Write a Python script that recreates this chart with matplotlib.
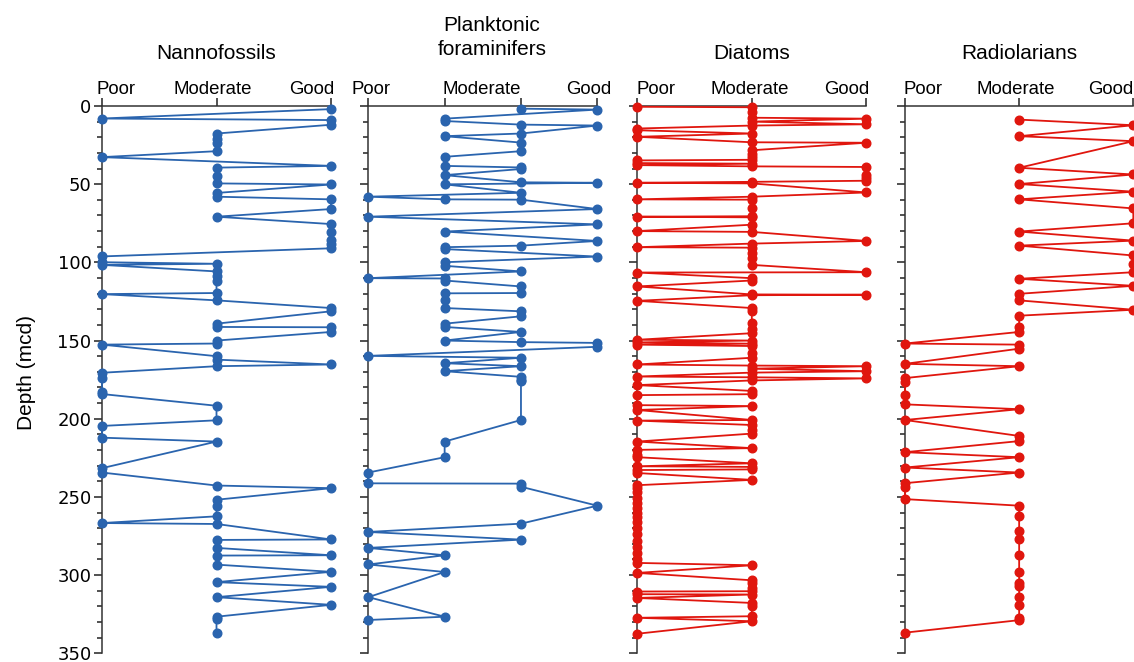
import matplotlib.pyplot as plt
from matplotlib.ticker import MultipleLocator

# preservation codes: 0 = Poor ... highest = Good
nanno_depth = [2, 8, 9, 12, 17.6, 20.8, 23.6, 28.9, 32.7, 38.3,
               39.4, 44.6, 49.5, 50.2, 55.6, 58, 59.7, 65.9, 70.8, 75.5,
               80.4, 85.7, 88, 91, 96.2, 99.9, 100.9, 101.6, 105.8, 109,
               111.6, 119.6, 120.3, 124.3, 129.2, 131.3, 139.2, 141.3, 141.5, 144.5,
               150, 151.9, 152.6, 160, 162.2, 165.3, 166.4, 170.6, 174, 182.8,
               184.2, 191.7, 201, 204.6, 212.1, 214.6, 231.6, 234.4, 242.7, 244.4,
               251.8, 256.1, 262.4, 266.7, 267.3, 277.2, 277.5, 282.6, 287.3, 287.5,
               293.3, 297.9, 304.5, 307.5, 314.1, 319, 326.6, 328.3, 337]
nanno_pres = [2, 0, 2, 2, 1, 1, 1, 1, 0, 2,
              1, 1, 1, 2, 1, 1, 2, 2, 1, 2,
              2, 2, 2, 2, 0, 0, 1, 0, 1, 1,
              1, 1, 0, 1, 2, 2, 1, 1, 2, 2,
              1, 1, 0, 1, 1, 2, 1, 0, 0, 0,
              0, 1, 1, 0, 0, 1, 0, 0, 1, 2,
              1, 1, 1, 0, 1, 2, 1, 1, 2, 1,
              1, 2, 1, 2, 1, 2, 1, 1, 1]

foram_depth = [1.7, 2.3, 8.1, 9.6, 11.9, 12.5, 17.6, 19.3, 23.4, 28.9,
               32.5, 38.3, 39.3, 40.3, 44.2, 48.8, 49.1, 50.1, 55.5, 58,
               59.7, 59.9, 65.9, 70.8, 75.7, 80.3, 86.3, 89.3, 90.3, 91.5,
               96.3, 99.9, 102.2, 105.8, 110.1, 110.3, 111.6, 115.4, 119.6, 119.8,
               123.9, 129.2, 131.3, 134.5, 139.2, 141.3, 144.5, 150, 151, 151.5,
               154, 159.8, 161, 164.5, 166.4, 169.6, 173.2, 175, 176, 200.8,
               214.6, 224.6, 234.4, 241.3, 241.5, 243.5, 255.6, 267.1, 272.4, 277.3,
               282.6, 287.3, 293.2, 298, 314.1, 326.6, 328.7]
foram_pres = [2, 3, 1, 1, 2, 3, 2, 1, 2, 2,
              1, 1, 2, 2, 1, 2, 3, 1, 2, 0,
              1, 2, 3, 0, 3, 1, 3, 2, 1, 1,
              3, 1, 1, 2, 0, 1, 1, 2, 2, 1,
              1, 1, 2, 2, 1, 1, 2, 1, 2, 3,
              3, 0, 2, 1, 2, 1, 2, 2, 2, 2,
              1, 1, 0, 0, 2, 2, 3, 2, 0, 2,
              0, 1, 0, 1, 0, 1, 0]

diatom_depth = [0.5, 0.8, 4, 7.5, 8.1, 10, 11.7, 12.5, 14.4, 15.5,
                17.6, 19.7, 23.2, 23.5, 28.3, 30.4, 32.5, 34.4, 34.8, 36.5,
                36.9, 37.8, 38.6, 39, 44.2, 46.3, 47.8, 48.5, 49.1, 49.5,
                55.3, 58, 59.7, 59.9, 65.3, 70.5, 70.8, 71.2, 75.9, 80,
                80.5, 86.3, 88, 90.3, 90.6, 94.1, 97.3, 101.6, 106.3, 106.5,
                110.1, 111.6, 115.4, 120.5, 120.7, 121, 124.6, 129.2, 131.3, 138.5,
                142.8, 145.3, 149.5, 150, 151.2, 152, 152.6, 153.5, 158, 161,
                165.3, 166, 166.4, 168, 169.6, 170.5, 173, 173.5, 174.2, 175.5,
                178.5, 182.2, 184.3, 184.9, 191.3, 191.9, 194.4, 200.8, 201.2, 204,
                207, 209.5, 214.6, 218.8, 219.9, 223, 224.6, 228.5, 230.4, 230.8,
                232.4, 232.8, 234.7, 239.1, 242.5, 244, 247, 251, 254, 257,
                260, 263, 266, 270, 274, 278, 282, 286, 290, 292.2,
                293.7, 298.6, 303.3, 305, 308, 310.3, 310.5, 312.2, 312.4, 314.6,
                317.8, 319.9, 326.3, 327.3, 329.5, 337.5]
diatom_pres = [0, 1, 1, 1, 2, 1, 2, 1, 0, 0,
               1, 0, 1, 2, 1, 1, 1, 1, 0, 0,
               1, 0, 1, 2, 2, 2, 2, 1, 0, 1,
               2, 1, 0, 1, 1, 1, 0, 1, 1, 0,
               1, 2, 1, 0, 1, 1, 1, 1, 2, 0,
               1, 1, 0, 1, 2, 1, 0, 1, 1, 1,
               1, 1, 0, 1, 0, 1, 0, 1, 1, 1,
               0, 1, 2, 1, 2, 1, 0, 1, 2, 1,
               0, 1, 1, 0, 0, 1, 0, 1, 0, 1,
               1, 1, 0, 1, 0, 0, 0, 1, 0, 1,
               1, 0, 0, 1, 0, 0, 0, 0, 0, 0,
               0, 0, 0, 0, 0, 0, 0, 0, 0, 0,
               1, 0, 1, 1, 1, 1, 0, 0, 1, 0,
               1, 1, 1, 0, 1, 0]

radio_depth = [8.7, 12.3, 19.3, 22.5, 39.5, 43.8, 49.9, 54.8, 59.7, 65.5,
               75, 80.3, 86.1, 89.3, 95.6, 100.9, 106.3, 110.5, 115, 120.1,
               124.3, 130.3, 134.1, 141.3, 144.5, 151.9, 152.6, 155.2, 164.9, 166.4,
               174, 176.4, 184.5, 190.8, 193.9, 200.8, 211, 214.3, 221.4, 224.6,
               231.2, 234.4, 241.2, 243.7, 251.4, 255.6, 262.5, 272, 276.9, 287.3,
               297.9, 304.9, 307, 314.1, 318.8, 327.3, 328.8, 336.8]
radio_pres = [1, 2, 1, 2, 1, 2, 1, 2, 1, 2,
              2, 1, 2, 1, 2, 2, 2, 1, 2, 1,
              1, 2, 1, 1, 1, 0, 1, 1, 0, 1,
              0, 0, 0, 0, 1, 0, 1, 1, 0, 1,
              0, 1, 0, 0, 0, 1, 1, 1, 1, 1,
              1, 1, 1, 1, 1, 1, 1, 0]

titles = ["Nannofossils", "Planktonic\nforaminifers", "Diatoms", "Radiolarians"]
pres_labels = ["Poor", "Moderate", "Good"]
depth_ticks = [0, 50, 100, 150, 200, 250, 300, 350]

BLUE = "#2a64ae"
RED = "#e0160e"
W, H = 1134, 662
TOP, BOTTOM = 106, 653.3

fig = plt.figure(figsize=(W / 100, H / 100), dpi=100)
plt.rcParams['font.family'] = ['Liberation Sans', 'DejaVu Sans']

# pixel layout: left edge, right edge, number of levels, label x (data), title x/y
layout = [
    (102, 331, 3, [0.12, 0.97, 1.83], 216, [59]),
    (368.3, 597.3, 4, [0.04, 1.49, 2.89], 492, [31, 55]),
    (637.3, 866.3, 3, [0.16, 0.98, 1.83], 752, [59]),
    (905, 1133.3, 3, [0.16, 0.97, 1.80], 1019, [59]),
]
series = [(nanno_pres, nanno_depth, BLUE), (foram_pres, foram_depth, BLUE),
          (diatom_pres, diatom_depth, RED), (radio_pres, radio_depth, RED)]

for i, ((l, r, nlev, lab_x, tx, ty), (pres, depth, col)) in enumerate(zip(layout, series)):
    ax = fig.add_axes([l / W, (H - BOTTOM) / H, (r - l) / W, (BOTTOM - TOP) / H])
    ax.plot(pres, depth, '-o', color=col, lw=1.3, ms=6.2, clip_on=False, zorder=3)
    ax.set_xlim(0, nlev - 1)
    ax.set_ylim(350, 0)
    for s in ['right', 'bottom']:
        ax.spines[s].set_visible(False)
    for s in ['left', 'top']:
        ax.spines[s].set_color('#333333')
        ax.spines[s].set_linewidth(1.1)
    ax.xaxis.tick_top()
    ax.set_xticks(range(nlev))
    ax.set_xticklabels([])
    ax.tick_params(axis='x', length=5.5, width=1.1, color='#222222')
    ax.set_yticks(depth_ticks)
    ax.yaxis.set_minor_locator(MultipleLocator(10))
    ax.tick_params(axis='y', which='major', length=5.5, width=1.1, color='#222222', pad=2)
    ax.tick_params(axis='y', which='minor', length=3.8, width=1.1, color='#222222')
    if i == 0:
        ax.set_yticklabels([str(t) for t in depth_ticks], fontsize=13, family='DejaVu Sans')
    else:
        ax.set_yticklabels([])
    for x, t in zip(lab_x, pres_labels):
        ax.annotate(t, xy=(x, 1), xycoords=('data', 'axes fraction'),
                    xytext=(0, (TOP - 94) * 0.72), textcoords='offset points',
                    ha='center', va='baseline', fontsize=13.4)
    for line, y in zip(titles[i].split('\n'), ty):
        fig.text(tx / W, 1 - y / H, line, ha='center', va='baseline', fontsize=15)

fig.text(26 / W, 1 - 373 / H, "Depth (mcd)", rotation=90, ha='center', va='center', fontsize=15)

fig.savefig("out.png", dpi=100)
